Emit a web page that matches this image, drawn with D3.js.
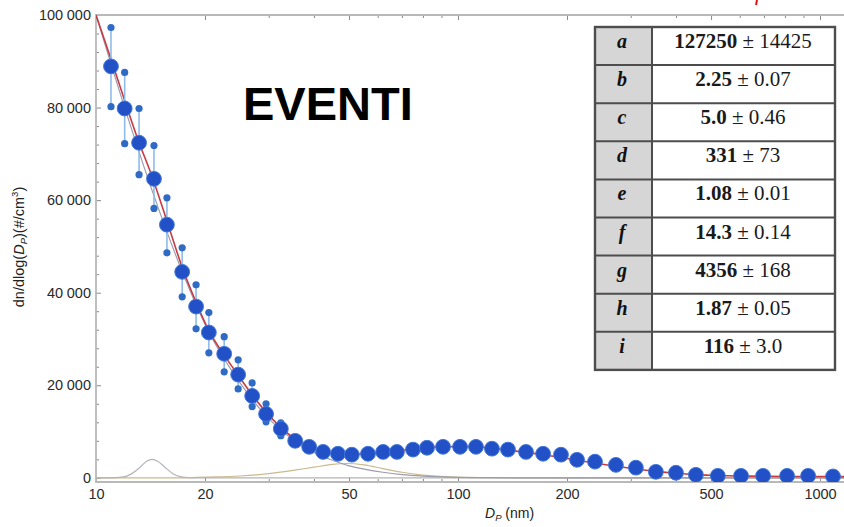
<!DOCTYPE html>
<html><head><meta charset="utf-8">
<script src="https://cdn.jsdelivr.net/npm/d3@7"></script>
<style>body{margin:0;background:#fff}svg{display:block}</style>
</head><body><svg id="c" width="844" height="527"></svg>
<script>
// ---- data ----
const diameters = [11.0,12.0,13.15,14.46,15.7,17.3,18.9,20.5,22.6,24.7,27.0,29.5,32.4,35.5,38.8,42.4,46.6,50.9,56.4,62.1,67.8,75.1,82.1,90.9,101.3,112.1,124.1,137.4,154.1,171.8,192.5,213.2,239,273,310,352,400,454,522,605,696,811,927,1086];
const counts = [88900,79800,72400,64600,54700,44500,37000,31400,26800,22300,17700,13800,10600,8000,6700,5600,5200,5000,5200,5600,5600,6100,6500,6700,6700,6700,6300,6100,5600,5200,5000,3900,3500,2800,2200,1300,1100,650,430,430,430,430,430,300];
const errHigh = [97300,87600,79800,71800,60500,49700,41700,35700,30500,25500,20500,16000,11900];
const errLow  = [80200,72200,65500,58200,48600,39100,32200,27000,22900,19200,15400,12100,9100];

const fitD = [10,11,12,13,14.3,15.7,17.3,19,20.5,22.6,25,27,29.5,32.4,35.5,38.8,42.4,46.6,51,56,62,68,75,82,91,101,112,124,137,154,172,192,213,239,273,310,352,400,454,522,605,696,811,927,1210];
const fitN = [100000,90500,81500,73500,65000,55500,45500,37500,31800,26500,21600,17900,14200,10900,8400,6900,5900,5300,5100,5200,5500,5900,6200,6500,6700,6750,6700,6400,6000,5500,5000,4400,3800,3200,2500,1900,1400,1000,700,500,400,350,300,300,250];

const comp1D = [10,12,14.3,17.3,20.5,25,30,35,40,45,50,55,62,70,80,95,120,160,1210];
const comp1N = [100000,80000,62000,44600,31500,20500,12800,8300,5500,3800,2600,1900,1200,700,380,150,40,0,0];
const comp2D = [10,11,11.8,12.5,13.2,13.8,14.3,14.8,15.5,16.3,17.2,18.5,1210];
const comp2N = [0,0,150,800,2200,3600,4000,3600,2300,900,200,0,0];
const comp3D = [10,17,20,25,30,35,40,45,49,55,62,70,80,95,120,160,1210];
const comp3N = [0,0,150,400,900,1600,2300,2900,3100,2800,2000,1200,600,200,50,0,0];

const xMajor = [10,20,50,100,200,500,1000];
const xMinor = [30,40,60,70,80,90,300,400,600,700,800,900];
const yMajor = [0,20000,40000,60000,80000,100000];
const yMinor = [4000,8000,12000,16000,24000,28000,32000,36000,44000,48000,52000,56000,64000,68000,72000,76000,84000,88000,92000,96000];

const paramNames  = ["a","b","c","d","e","f","g","h","i"];
const paramValues = ["127250","2.25","5.0","331","1.08","14.3","4356","1.87","116"];
const paramErrors = ["14425","0.07","0.46","73","0.01","0.14","168","0.05","3.0"];

// ---- layout ----
const svg = d3.select("#c");
const X0 = 96, X1 = 850, Y0 = 482, Y1 = 15;
const x = d3.scaleLog().domain([10, 1210]).range([X0, X1]);
const y = d3.scaleLinear().domain([-900, 100000]).range([Y0, Y1]);
const sans = "'Liberation Sans', Arial, Helvetica, sans-serif";
const serif = "'Liberation Serif', 'Times New Roman', serif";
const frameCol = "#b9b9b9";

// axes ticks
const fmtY = v => v === 0 ? "0" : d3.format(",")(v).replace(/,/g, "\u2005");
const gy = svg.append("g").attr("transform", `translate(${X0},0)`)
  .call(d3.axisLeft(y).tickValues(yMajor).tickFormat(fmtY).tickSize(-5).tickPadding(5));
const gym = svg.append("g").attr("transform", `translate(${X0},0)`)
  .call(d3.axisLeft(y).tickValues(yMinor).tickFormat("").tickSize(-3));
const gx = svg.append("g").attr("transform", `translate(0,${Y0})`)
  .call(d3.axisBottom(x).tickValues(xMajor).tickFormat(d3.format("d")).tickSize(-5).tickPadding(7));
const gxm = svg.append("g").attr("transform", `translate(0,${Y0})`)
  .call(d3.axisBottom(x).tickValues(xMinor).tickFormat("").tickSize(-3));
const gt = svg.append("g").attr("transform", `translate(0,${Y1})`)
  .call(d3.axisTop(x).tickValues(xMajor).tickFormat("").tickSize(-5));
const gtm = svg.append("g").attr("transform", `translate(0,${Y1})`)
  .call(d3.axisTop(x).tickValues(xMinor).tickFormat("").tickSize(-3));
[gy, gym, gx, gxm, gt, gtm].forEach(g => {
  g.select(".domain").remove();
  g.selectAll("line").attr("stroke", "#8a8a8a").attr("stroke-width", 1);
  g.selectAll("text").attr("font-family", sans).attr("font-size", 14.5).attr("fill", "#2a2a2a");
});

// frame
svg.append("path")
  .attr("d", `M${X1},${Y1}H${X0}V${Y0}H${X1}`)
  .attr("fill", "none").attr("stroke", frameCol).attr("stroke-width", 1.8);

// clip for plotted curves
svg.append("clipPath").attr("id", "pc").append("rect")
  .attr("x", X0).attr("y", Y1).attr("width", X1 - X0).attr("height", Y0 - Y1);
const plot = svg.append("g").attr("clip-path", "url(#pc)");

const line = d3.line().x(d => x(d[0])).y(d => y(d[1])).curve(d3.curveMonotoneX);
const zip = (a, b) => a.map((v, i) => [v, b[i]]);

plot.append("path").attr("d", line(zip(comp3D, comp3N)))
  .attr("fill", "none").attr("stroke", "#cbb98f").attr("stroke-width", 1.2);
plot.append("path").attr("d", line(zip(comp2D, comp2N)))
  .attr("fill", "none").attr("stroke", "#b4b4b4").attr("stroke-width", 1.2);
plot.append("path").attr("d", line(zip(comp1D, comp1N)))
  .attr("fill", "none").attr("stroke", "#9c9cab").attr("stroke-width", 1.2);
plot.append("path").attr("d", line(zip(fitD, fitN)))
  .attr("fill", "none").attr("stroke", "#c83a44").attr("stroke-width", 1.6);

// error bars
const errs = errHigh.map((h, i) => ({d: diameters[i], hi: h, lo: errLow[i]}));
plot.selectAll(".eb").data(errs).join("line")
  .attr("x1", d => x(d.d)).attr("x2", d => x(d.d))
  .attr("y1", d => y(d.hi)).attr("y2", d => y(d.lo))
  .attr("stroke", "#8fbbe8").attr("stroke-width", 1.6);
plot.selectAll(".eh").data(errs).join("circle")
  .attr("cx", d => x(d.d)).attr("cy", d => y(d.hi)).attr("r", 3.6)
  .attr("fill", "#2f6bc4");
plot.selectAll(".el").data(errs).join("circle")
  .attr("cx", d => x(d.d)).attr("cy", d => y(d.lo)).attr("r", 3.6)
  .attr("fill", "#2f6bc4");

// main points
plot.selectAll(".pt").data(zip(diameters, counts)).join("circle")
  .attr("cx", d => x(d[0])).attr("cy", d => y(d[1])).attr("r", 7.4)
  .attr("fill", "#2250c6").attr("stroke", "#4277d8").attr("stroke-width", 1);

// axis titles
const yt = svg.append("text").attr("transform", "translate(24,247) rotate(-90)")
  .attr("text-anchor", "middle").attr("font-family", sans).attr("font-size", 14.5).attr("fill", "#222");
yt.append("tspan").text("dn/dlog(");
yt.append("tspan").attr("font-style", "italic").text("D");
yt.append("tspan").attr("font-style", "italic").attr("font-size", 9.5).attr("dy", 3).text("P");
yt.append("tspan").attr("dy", -3).text(")(#/cm");
yt.append("tspan").attr("font-size", 9.5).attr("dy", -6).text("3");
yt.append("tspan").attr("dy", 6).text(")");

const xt = svg.append("text").attr("x", 485).attr("y", 518)
  .attr("font-family", sans).attr("font-size", 14).attr("fill", "#222");
xt.append("tspan").attr("font-style", "italic").text("D");
xt.append("tspan").attr("font-style", "italic").attr("font-size", 9.5).attr("dy", 3).text("P");
xt.append("tspan").attr("dy", -3).text(" (nm)");

// big label
svg.append("text").attr("x", 243).attr("y", 120)
  .attr("font-family", sans).attr("font-weight", "bold").attr("font-size", 47)
  .attr("fill", "#000").text("EVENTI");

// red mark at top
svg.append("line").attr("x1", 757).attr("y1", 0).attr("x2", 756).attr("y2", 5)
  .attr("stroke", "#e01010").attr("stroke-width", 2);

// parameter table
const tX0 = 595, tXs = 652, tX1 = 835, tY0 = 27, rowH = 38.1;
const tb = svg.append("g");
tb.append("rect").attr("x", tX0).attr("y", tY0).attr("width", tXs - tX0).attr("height", rowH * 9).attr("fill", "#d6d6d6");
tb.append("rect").attr("x", tXs).attr("y", tY0).attr("width", tX1 - tXs).attr("height", rowH * 9).attr("fill", "#fff");
d3.range(1, 9).forEach(i => {
  tb.append("line").attr("x1", tX0).attr("x2", tX1).attr("y1", tY0 + i * rowH).attr("y2", tY0 + i * rowH)
    .attr("stroke", "#4d4d4d").attr("stroke-width", 2);
});
tb.append("line").attr("x1", tXs).attr("x2", tXs).attr("y1", tY0).attr("y2", tY0 + 9 * rowH)
  .attr("stroke", "#4d4d4d").attr("stroke-width", 2);
tb.append("rect").attr("x", tX0).attr("y", tY0).attr("width", tX1 - tX0).attr("height", rowH * 9)
  .attr("fill", "none").attr("stroke", "#4d4d4d").attr("stroke-width", 2.4);
paramNames.forEach((n, i) => {
  const by = tY0 + i * rowH + 21;
  tb.append("text").attr("x", 622).attr("y", by).attr("text-anchor", "middle")
    .attr("font-family", serif).attr("font-style", "italic").attr("font-weight", "bold")
    .attr("font-size", 20).attr("fill", "#111").text(n);
  const t = tb.append("text").attr("x", 743).attr("y", by).attr("text-anchor", "middle")
    .attr("font-family", serif).attr("font-size", 21).attr("fill", "#1a1a1a");
  t.append("tspan").attr("font-weight", "bold").text(paramValues[i]);
  t.append("tspan").text(" \u00b1 " + paramErrors[i]);
});
</script></body></html>
